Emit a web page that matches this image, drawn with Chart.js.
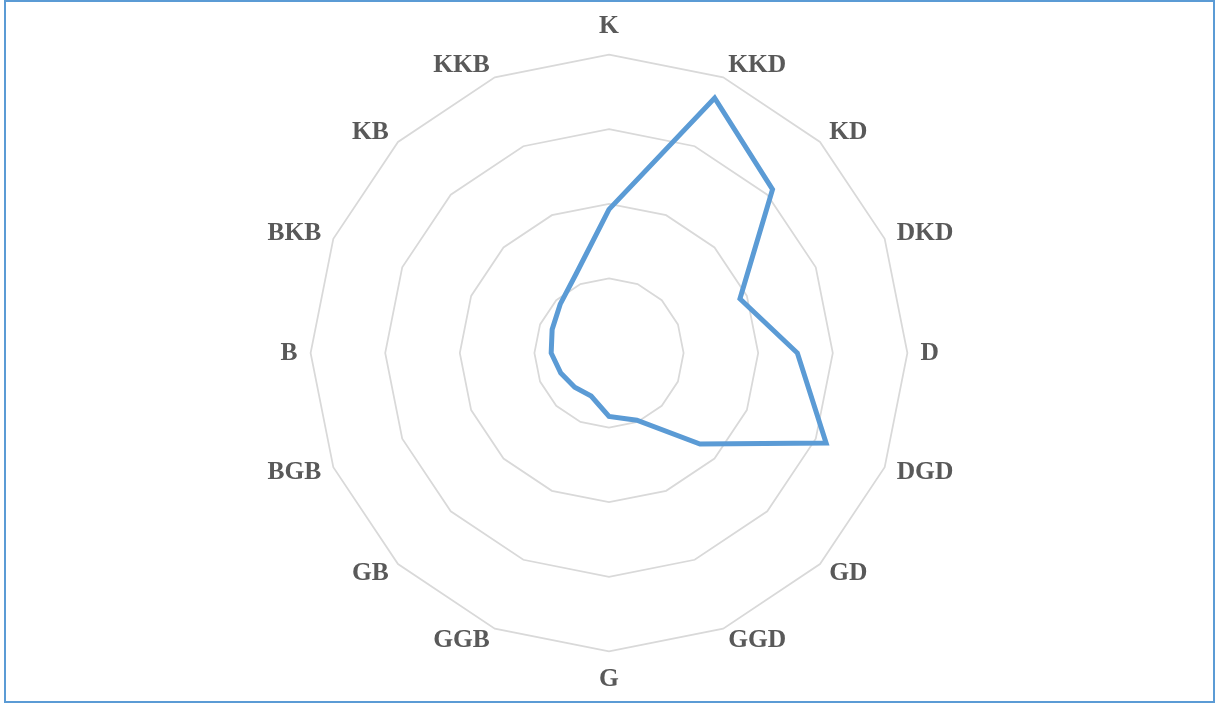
<!DOCTYPE html>
<html>
<head>
<meta charset="utf-8">
<script src="https://cdn.jsdelivr.net/npm/chart.js@4/dist/chart.umd.min.js"></script>
<style>
  html, body { margin: 0; padding: 0; background: #fff; }
  #frame {
    position: absolute; left: 4px; top: 0; width: 1211px; height: 703px;
    box-sizing: border-box; border: 2px solid #5b9bd5;
  }
  #wrap { position: absolute; left: 0; top: 0; width: 1215px; height: 704px; }
</style>
</head>
<body>
<div id="frame"></div>
<div id="wrap"><canvas id="radarChart"></canvas></div>
<script>
// yönler (yukarıdan saat yönünde)
var directions = ["K", "KKD", "KD", "DKD", "D", "DGD", "GD", "GGD", "G", "GGB", "GB", "BGB", "B", "BKB", "KB", "KKB"];
// frekans (%)
var frequency = [7.7, 14.8, 12.4, 7.6, 10.1, 12.6, 6.9, 3.9, 3.4, 2.5, 2.6, 2.8, 3.1, 3.3, 3.7, 4.6];
// ölçek
var scaleMax = 16;
var scaleStep = 4;

// yan etiketleri dikeyde ortala (Excel gibi)
var labelCenter = {
  id: 'labelCenter',
  beforeDraw: function (chart) {
    var scale = chart.scales.r;
    var items = scale._pointLabelItems || [];
    var pad = scale.options.pointLabels.padding;
    items.forEach(function (item, i) {
      var deg = Math.round(scale.getIndexAngle(i) * 180 / Math.PI) % 360;
      if (deg === 0 || deg === 180) return;
      var pos = scale.getPointPosition(i, scale.drawingArea + pad);
      var h = item.bottom - item.top;
      item.y = pos.y - h / 2;
      item.top = item.y;
      item.bottom = item.y + h;
    });
  }
};

var ctx = document.getElementById("radarChart");
var myChart = new Chart(ctx, {
  type: 'radar',
  data: {
    labels: directions,
    datasets: [
      {
        data: frequency,
        borderColor: "#5b9bd5",
        backgroundColor: "rgba(0,0,0,0)",
        borderWidth: 5,
        borderJoinStyle: 'miter',
        fill: false,
        pointRadius: 0,
        pointHoverRadius: 0,
        tension: 0
      }
    ]
  },
  options: {
    responsive: true,
    maintainAspectRatio: false,
    animation: false,
    layout: {
      padding: { top: 11, bottom: 8, left: 3, right: 0 }
    },
    plugins: {
      legend: { display: false },
      tooltip: { enabled: false }
    },
    scales: {
      r: {
        min: 0,
        max: scaleMax,
        ticks: { display: false, stepSize: scaleStep },
        grid: { color: '#d9d9d9', lineWidth: 1.75 },
        angleLines: { display: false },
        pointLabels: {
          color: '#595959',
          padding: 13,
          font: { family: '"Liberation Serif", "Times New Roman", serif', size: 25.5, weight: 'bold' }
        }
      }
    }
  },
  plugins: [labelCenter]
});
</script>
</body>
</html>
